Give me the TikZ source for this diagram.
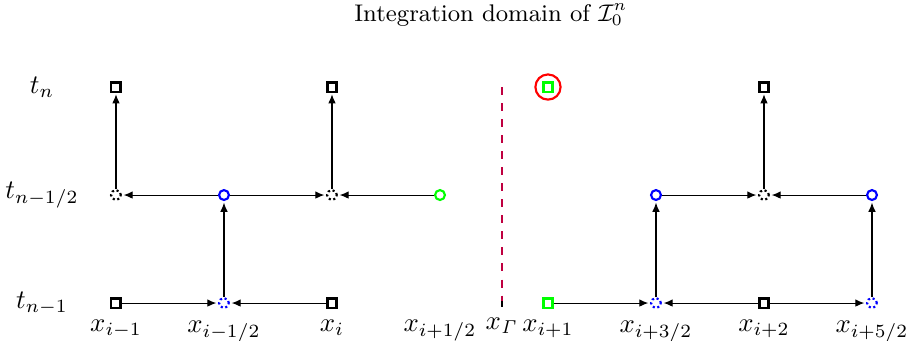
\documentclass[tikz,border=0pt]{standalone}
\usepackage{amsmath,amssymb}
\usepackage{xcolor}
\usepackage{tikz}
\usetikzlibrary{positioning,arrows.meta}

\begin{document}
\begin{tikzpicture}[
  x=1.42cm, y=1.42cm,
  sq/.style={rectangle, draw, thick, minimum size=1.2mm, inner sep=0pt},
  gsq/.style={sq, draw=green},
  bcirc/.style={circle, draw=blue, thick, minimum size=1.3mm, inner sep=0pt},
  gcirc/.style={bcirc, draw=green},
  dotc/.style={circle, draw, thick, densely dotted, minimum size=1.3mm, inner sep=0pt},
  bdotc/.style={dotc, draw=blue},
  xlbl/.style={text height=1.5ex, text depth=0.6ex, inner sep=1pt},
  flowarrow/.style={-{Latex[length=1.2mm,width=1mm]}, thin, shorten >=0.6pt}
]
\useasboundingbox (-1.074,-0.343) rectangle (7.315,2.806);

% title
\node[font=\small, anchor=base] (title) at (3.47,2.61) {Integration domain of $\mathcal{I}_0^n$};

% left cell
\node[sq]    (a0) at (0,0) {};
\node[bdotc] (b0) at (1,0) {};
\node[sq]    (c0) at (2,0) {};
\node[dotc]  (a1) at (0,1) {};
\node[bcirc] (b1) at (1,1) {};
\node[dotc]  (c1) at (2,1) {};
\node[gcirc] (d1) at (3,1) {};
\node[sq]    (a2) at (0,2) {};
\node[sq]    (c2) at (2,2) {};
\coordinate  (d0) at (3,0);

% right cell
\node[gsq]   (e0) at (4,0) {};
\node[bdotc] (f0) at (5,0) {};
\node[sq]    (g0) at (6,0) {};
\node[bdotc] (h0) at (7,0) {};
\node[bcirc] (f1) at (5,1) {};
\node[dotc]  (g1) at (6,1) {};
\node[bcirc] (h1) at (7,1) {};
\node[gsq]   (e2) at (4,2) {};
\node[sq]    (g2) at (6,2) {};
\node[circle, draw=red, thick, minimum size=2.9mm] (mark) at (e2) {};

% interface
\coordinate (gtop) at (3.574,2);
\coordinate (gbot) at (3.574,-0.035);
\coordinate (gtick) at (3.574,0.015);
\draw[purple, thick, dashed] (gtop) -- (gbot);
\draw[thick] (gbot) -- (gtick);

% time levels
\node (tn)  at (-0.685,2) {$t_n$};
\node (tnh) at (-0.685,1) {$t_{n-1/2}$};
\node (tn1) at (-0.685,0) {$t_{n-1}$};

% space labels
\node[xlbl, below=1pt of a0] {$x_{i-1}$};
\node[xlbl, below=1pt of b0] {$x_{i-1/2}$};
\node[xlbl, below=1pt of c0] {$x_i$};
\node[xlbl, below=3pt of d0] {$x_{i+1/2}$};
\node[xlbl, below=3pt of gtick] {$x_\mathit{\Gamma}$};
\node[xlbl, below=1pt of e0] {$x_{i+1}$};
\node[xlbl, below=1pt of f0] {$x_{i+3/2}$};
\node[xlbl, below=1pt of g0] {$x_{i+2}$};
\node[xlbl, below=1pt of h0] {$x_{i+5/2}$};

% arrows, left
\draw[flowarrow] (a0) -- (b0);
\draw[flowarrow] (c0) -- (b0);
\draw[flowarrow] (b0) -- (b1);
\draw[flowarrow] (b1) -- (a1);
\draw[flowarrow] (b1) -- (c1);
\draw[flowarrow] (d1) -- (c1);
\draw[flowarrow] (a1) -- (a2);
\draw[flowarrow] (c1) -- (c2);

% arrows, right
\draw[flowarrow] (e0) -- (f0);
\draw[flowarrow] (g0) -- (f0);
\draw[flowarrow] (g0) -- (h0);
\draw[flowarrow] (f0) -- (f1);
\draw[flowarrow] (h0) -- (h1);
\draw[flowarrow] (f1) -- (g1);
\draw[flowarrow] (h1) -- (g1);
\draw[flowarrow] (g1) -- (g2);

\end{tikzpicture}
\end{document}
